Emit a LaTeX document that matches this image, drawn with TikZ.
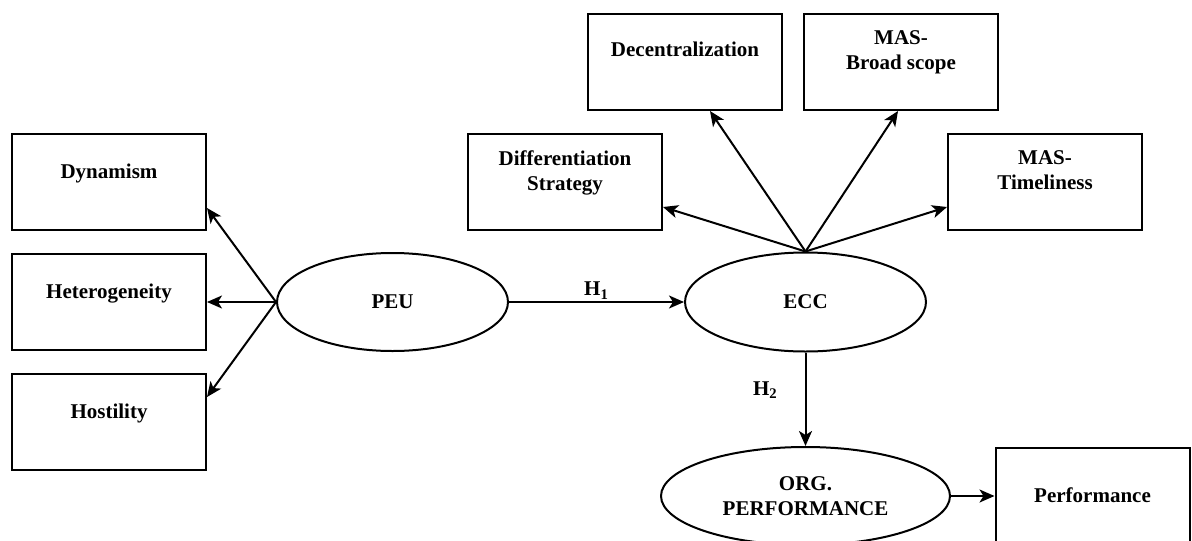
\documentclass[tikz,border=0pt]{standalone}
\usepackage{fontspec}
\setmainfont{Liberation Serif}
\usepackage{tikz}
\usetikzlibrary{arrows.meta, shapes.geometric}
\tikzstyle{arrow} = [line width=1pt, -{Stealth[length=7.5pt, width=6.5pt, inset=2pt]}]
\tikzstyle{box} = [draw, line width=1pt, minimum width=97pt, minimum height=48pt, inner sep=0pt]
\tikzstyle{oval} = [draw, ellipse, line width=1pt, inner sep=0pt, align=center]
\tikzstyle{boxtext} = [anchor=north, inner sep=0pt, align=center]

\begin{document}
\begin{tikzpicture}[x=0.5pt, y=-0.5pt, font=\fontsize{10.5}{12.5}\selectfont\bfseries]
    \useasboundingbox (0,0) rectangle (1192,540);
    % PEU side
    \node[box, label={[boxtext, yshift=-15.5pt]north:Dynamism}] (dyn) at (109,182) {};
    \node[box, label={[boxtext, yshift=-15.5pt]north:Heterogeneity}] (het) at (109,302) {};
    \node[box, label={[boxtext, yshift=-15.5pt]north:Hostility}] (hos) at (109,422) {};
    \node[oval, minimum width=115.5pt, minimum height=49pt] (peu) at (392.5,302) {PEU};
    % ECC side
    \node[oval, minimum width=120.5pt, minimum height=49.5pt] (ecc) at (805.5,302) {ECC};
    \node[box, label={[boxtext, yshift=-8.5pt]north:Differentiation\\Strategy}] (diff) at (565,182) {};
    \node[box, label={[boxtext, yshift=-14.5pt]north:Decentralization}] (dec) at (685,62) {};
    \node[box, label={[boxtext, yshift=-8.5pt]north:MAS-\\Broad scope}] (mas) at (901,62) {};
    \node[box, label={[boxtext, yshift=-8.5pt]north:MAS-\\Timeliness}] (tim) at (1045,182) {};
    % outcome
    \node[oval, minimum width=144.5pt, minimum height=49pt] (org) at (805.5,496) {ORG.\\PERFORMANCE};
    \node[box, label={[boxtext, yshift=-20pt]north:Performance}] (perf) at (1092.5,496) {};

    \draw[arrow] (peu.west) -- ([yshift=-13pt]dyn.east);
    \draw[arrow] (peu.west) -- (het.east);
    \draw[arrow] (peu.west) -- ([yshift=12.5pt]hos.east);
    \draw[arrow] (peu) -- node[above, inner sep=1pt] {H\textsubscript{1}} (ecc);
    \draw[arrow] (ecc.north) -- ([yshift=-12.5pt]diff.east);
    \draw[arrow] (ecc.north) -- ([xshift=12.5pt]dec.south);
    \draw[arrow] (ecc.north) -- ([xshift=-1.5pt]mas.south);
    \draw[arrow] (ecc.north) -- ([yshift=-12.5pt]tim.west);
    \draw[arrow] (ecc) -- node[left=10pt, yshift=4.5pt] {H\textsubscript{2}} (org);
    \draw[arrow] (org) -- (perf);
\end{tikzpicture}
\end{document}
